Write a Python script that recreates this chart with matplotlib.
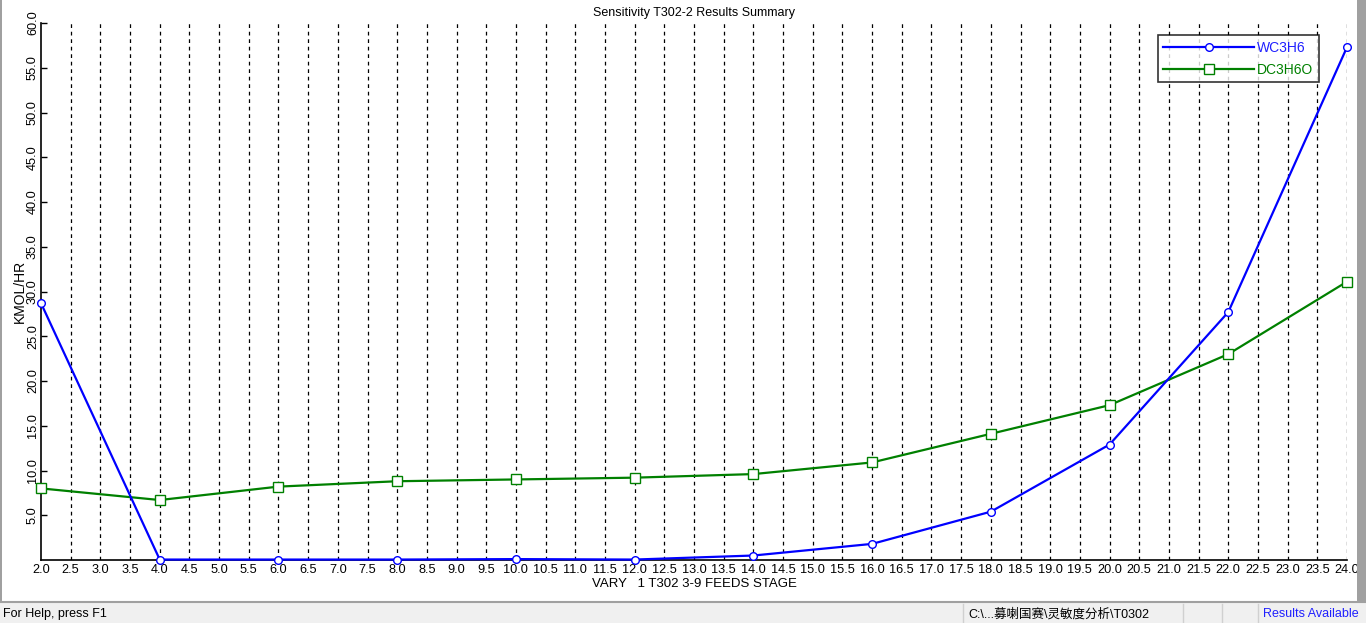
import matplotlib
matplotlib.use('Agg')
import matplotlib.pyplot as plt
from matplotlib.patches import Rectangle
from matplotlib.lines import Line2D
import numpy as np

plt.rcParams['font.family'] = ['Liberation Sans', 'Noto Sans CJK SC', 'DejaVu Sans']

# data
stage = [2.0, 4.0, 6.0, 8.0, 10.0, 12.0, 14.0, 16.0, 18.0, 20.0, 22.0, 24.0]
wc3h6 = [28.7, 0.05, 0.05, 0.05, 0.1, 0.05, 0.5, 1.8, 5.4, 12.9, 27.7, 57.3]
dc3h6o = [8.0, 6.7, 8.2, 8.8, 9.0, 9.2, 9.6, 10.9, 14.1, 17.3, 23.0, 31.1]

x_ticks = np.arange(2.0, 24.01, 0.5)
y_ticks = np.arange(5.0, 60.01, 5.0)

W, H = 1366, 623
fig = plt.figure(figsize=(W / 100, H / 100), dpi=100)
fig.patch.set_facecolor('white')


def fx(px):
    return px / W


def fy(py):
    return 1 - py / H


# window borders and status bar
fig.patches.append(Rectangle((0, 0), fx(2), 1, transform=fig.transFigure,
                             facecolor='#a0a0a0', edgecolor='none'))
fig.patches.append(Rectangle((fx(1357), 0), fx(9), 1, transform=fig.transFigure,
                             facecolor='#a0a0a0', edgecolor='none'))
fig.patches.append(Rectangle((0, 0), 1, fy(603), transform=fig.transFigure,
                             facecolor='#f0f0f0', edgecolor='none'))
fig.lines.append(Line2D([0, 1], [fy(602), fy(602)], transform=fig.transFigure,
                        color='#a0a0a0', lw=1.5))
for sx in [963, 1183, 1222, 1258]:
    fig.lines.append(Line2D([fx(sx), fx(sx)], [0, fy(604)], transform=fig.transFigure,
                            color='#d0d0d0', lw=1))
fig.text(fx(3), fy(614), 'For Help, press F1', fontsize=9, va='center', ha='left')
fig.text(fx(968), fy(614), 'C:\\...募喇国赛\\灵敏度分析\\T0302', fontsize=9,
         va='center', ha='left')
fig.text(fx(1263), fy(614), 'Results Available', fontsize=9, va='center', ha='left',
         color='#2020ff')

ax_w = fx(1347) - fx(41)
ax_h = fy(23) - fy(560)
ax = fig.add_axes([fx(41), fy(560), ax_w, ax_h])
ax.set_xlim(2.0, 24.0)
ax.set_ylim(0, 60.0)

ax.plot(stage, wc3h6, color='#0000ff', lw=1.6, marker='o', ms=5.5,
        mfc='white', mec='#0000ff', mew=1, label='WC3H6', clip_on=False, zorder=4)
ax.plot(stage, dc3h6o, color='#008000', lw=1.6, marker='s', ms=6.5,
        mfc='white', mec='#008000', mew=1, label='DC3H6O', clip_on=False, zorder=3)

for xv in x_ticks[1:]:
    ax.axvline(xv, color='black', lw=0.9, ls=(0, (3, 3)), zorder=1)

ax.set_xticks(x_ticks)
ax.set_xticklabels([f'{v:.1f}' for v in x_ticks], fontsize=9.2)
ax.tick_params(axis='x', length=0, pad=3)
ax.set_yticks(y_ticks)
ax.set_yticklabels([f'{v:.1f}' for v in y_ticks], fontsize=9.2, rotation=90, va='center')
ax.tick_params(axis='y', length=4, width=1, pad=1.5, direction='in')

for side in ['top', 'right']:
    ax.spines[side].set_visible(False)
ax.spines['left'].set_linewidth(1.2)
ax.spines['bottom'].set_linewidth(1.2)

ax.set_title('Sensitivity T302-2 Results Summary', fontsize=9, pad=5)
ax.set_xlabel('VARY   1 T302 3-9 FEEDS STAGE', fontsize=9.5, labelpad=1)
ax.set_ylabel('KMOL/HR', fontsize=10, labelpad=0)

leg = ax.legend(loc='upper right',
                bbox_to_anchor=((fx(1319) - fx(41)) / ax_w, 1 - 12 / 537),
                borderaxespad=0, fontsize=10, frameon=True, fancybox=False,
                borderpad=0.4, handlelength=6.5, handletextpad=0.25, labelspacing=0.6)
leg.get_frame().set_edgecolor('black')
leg.get_frame().set_linewidth(1.2)
for txt, col in zip(leg.get_texts(), ['#2020ff', '#008000']):
    txt.set_color(col)

fig.savefig('out.png', dpi=100)
